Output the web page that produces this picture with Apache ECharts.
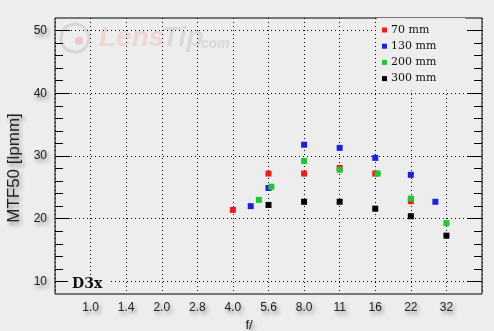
<!DOCTYPE html>
<html>
<head>
<meta charset="utf-8">
<script src="https://cdn.jsdelivr.net/npm/echarts@6/dist/echarts.min.js"></script>
<style>
html,body{margin:0;padding:0;background:#ededed;}
#chart{width:494px;height:331px;}
</style>
</head>
<body>
<div id="chart"></div>
<script>
// f-stop tick labels (positions 0..10 on a log2 half-stop scale)
const fStopLabels = ['1.0','1.4','2.0','2.8','4.0','5.6','8.0','11','16','22','32'];
const seriesNames = ['70 mm','130 mm','200 mm','300 mm'];
const seriesColors = ['#f01c1c','#2020d8','#1ec832','#000000'];
// [f-stop position, MTF50 lpmm]
const mm70  = [[4,21.4],[5,27.2],[6,27.2],[7,28.1],[8,27.2],[9,22.8]];
const mm130 = [[4.5,22.0],[5,24.9],[6,31.8],[7,31.3],[8,29.7],[9,27.0],[9.69,22.7]];
const mm200 = [[4.73,23.0],[5.08,25.1],[6,29.2],[7,27.8],[8.07,27.2],[9,23.2],[10,19.3]];
const mm300 = [[5,22.2],[6,22.7],[7,22.7],[8,21.6],[9,20.4],[10,17.3]];
const yTicks = [10,20,30,40,50];

const seriesData = [mm70, mm130, mm200, mm300];
const shadow = {textShadowColor:'rgba(0,0,0,0.45)', textShadowBlur:4, textShadowOffsetX:2, textShadowOffsetY:3};
const dots = [1,3];

const chart = echarts.init(document.getElementById('chart'), null, {renderer:'canvas'});
chart.setOption({
  animation:false,
  backgroundColor:'#ededed',
  title:{
    text:'D3x', left:68, top:276, padding:[0,6,0,4],
    backgroundColor:'#ededed',
    textStyle:{fontFamily:'DejaVu Serif', fontWeight:'bold', fontSize:14, color:'#111', lineHeight:16}
  },
  legend:{
    orient:'vertical', left:377, top:18, padding:[6,29,6,5],
    backgroundColor:'#ededed',
    itemWidth:5, itemHeight:5, itemGap:4.2, icon:'rect',
    data:seriesNames,
    textStyle:{fontFamily:'DejaVu Serif', fontSize:11, color:'#111', lineHeight:12, padding:[0,0,0,-1]}
  },
  graphic:[
    {type:'circle', z:-1, shape:{cx:75, cy:38, r:14}, style:{fill:'none', stroke:'#d6d6d6', lineWidth:3}},
    {type:'circle', z:-1, shape:{cx:79, cy:41, r:4}, style:{fill:'#ebc9c9'}},
    {type:'text', z:-1, x:99, y:52, style:{text:'Lens', font:'italic bold 28px "Liberation Sans"', fill:'#efd5d5', textVerticalAlign:'bottom'}},
    {type:'text', z:-1, x:162, y:52, style:{text:'Tip', font:'italic bold 28px "Liberation Sans"', fill:'#dadada', textVerticalAlign:'bottom'}},
    {type:'text', z:-1, x:197, y:51, style:{text:'.com', font:'italic bold 14px "Liberation Sans"', fill:'#dadada', textVerticalAlign:'bottom'}}
  ],
  grid:[
    {left:55, right:12, top:18, bottom:37, show:true, borderColor:'#000', borderWidth:1, backgroundColor:'transparent', outerBoundsMode:'none', containLabel:false},
    {left:55, right:12, top:30.545, bottom:49.545, outerBoundsMode:'none', containLabel:false}
  ],
  xAxis:[
    {
      type:'value', gridIndex:0, min:-1, max:11, interval:1,
      name:'f/', nameLocation:'middle', nameGap:22,
      nameTextStyle:Object.assign({fontFamily:'Liberation Sans', fontSize:13, color:'#222', padding:[0,39,0,0]}, shadow),
      axisLine:{show:false}, axisTick:{show:false},
      axisLabel:Object.assign({
        margin:8, fontFamily:'Liberation Sans', fontSize:12, color:'#222',
        formatter:function(v){ const i = Math.round(v); return (i>=0 && i<fStopLabels.length) ? fStopLabels[i] : ''; }
      }, shadow),
      splitLine:{show:true, lineStyle:{color:'#000', width:1, type:dots}}
    },
    {type:'value', gridIndex:1, min:0, max:1, show:false}
  ],
  yAxis:[
    {type:'value', gridIndex:0, min:8, max:52, show:false, splitLine:{show:false}},
    {
      type:'value', gridIndex:1, position:'left', min:yTicks[0], max:yTicks[yTicks.length-1], interval:10,
      name:'MTF50 [lpmm]', nameLocation:'middle', nameGap:28,
      nameTextStyle:Object.assign({fontFamily:'Liberation Sans', fontSize:17, color:'#222', padding:[0,24,0,0]}, shadow),
      axisLine:{show:false},
      axisTick:{show:true, inside:true, length:15, lineStyle:{color:'#000', width:1}},
      minorTick:{show:true, splitNumber:5, length:8, lineStyle:{color:'#000', width:1}},
      axisLabel:Object.assign({margin:8, fontFamily:'Liberation Sans', fontSize:12, color:'#222'}, shadow),
      splitLine:{show:true, lineStyle:{color:'#000', width:1, type:dots}}
    },
    {
      type:'value', gridIndex:1, position:'right', min:yTicks[0], max:yTicks[yTicks.length-1], interval:10,
      axisLine:{show:false},
      axisTick:{show:true, inside:true, length:15, lineStyle:{color:'#000', width:1}},
      minorTick:{show:true, splitNumber:5, length:8, lineStyle:{color:'#000', width:1}},
      axisLabel:{show:false},
      splitLine:{show:false}
    }
  ],
  series: seriesNames.map(function(n, i){
    return {
      name:n, type:'scatter', xAxisIndex:0, yAxisIndex:0,
      symbol:'rect', symbolSize:6,
      itemStyle:{color:seriesColors[i], opacity:1},
      emphasis:{disabled:true},
      data:seriesData[i]
    };
  })
});
</script>
</body>
</html>
